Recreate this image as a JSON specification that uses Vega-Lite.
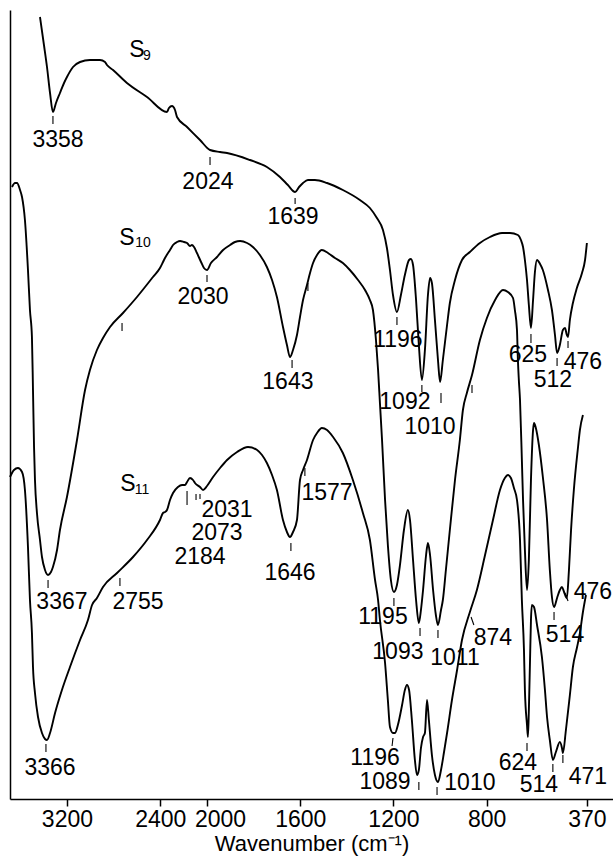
{
  "$schema": "https://vega.github.io/schema/vega-lite/v6.json",
  "width": 603,
  "height": 789,
  "autosize": {"type": "none"},
  "padding": {"left": 10, "top": 10, "right": 0, "bottom": 60},
  "background": "white",
  "config": {"view": {"stroke": null}, "font": "Liberation Sans"},
  "datasets": {
    "spectra": [
      {"s":"S9","wn":3431,"t":782},{"s":"S9","wn":3397,"t":754},{"s":"S9","wn":3371,"t":732},{"s":"S9","wn":3345,"t":706},{"s":"S9","wn":3320,"t":687},{"s":"S9","wn":3294,"t":696},{"s":"S9","wn":3260,"t":706},{"s":"S9","wn":3225,"t":716},{"s":"S9","wn":3200,"t":722},{"s":"S9","wn":3148,"t":732},{"s":"S9","wn":3088,"t":737},{"s":"S9","wn":3003,"t":739},{"s":"S9","wn":2917,"t":739},{"s":"S9","wn":2874,"t":737},{"s":"S9","wn":2857,"t":734},{"s":"S9","wn":2805,"t":729},{"s":"S9","wn":2686,"t":716},{"s":"S9","wn":2514,"t":702},{"s":"S9","wn":2343,"t":687},{"s":"S9","wn":2326,"t":691},{"s":"S9","wn":2300,"t":693},{"s":"S9","wn":2274,"t":689},{"s":"S9","wn":2257,"t":682},{"s":"S9","wn":2171,"t":672},{"s":"S9","wn":2060,"t":659},{"s":"S9","wn":1987,"t":649},{"s":"S9","wn":1944,"t":647},{"s":"S9","wn":1914,"t":646},{"s":"S9","wn":1816,"t":639},{"s":"S9","wn":1743,"t":632},{"s":"S9","wn":1687,"t":622},{"s":"S9","wn":1653,"t":614},{"s":"S9","wn":1622,"t":607},{"s":"S9","wn":1605,"t":612},{"s":"S9","wn":1588,"t":616},{"s":"S9","wn":1567,"t":619},{"s":"S9","wn":1537,"t":619},{"s":"S9","wn":1485,"t":616},{"s":"S9","wn":1417,"t":609},{"s":"S9","wn":1344,"t":599},{"s":"S9","wn":1301,"t":591},{"s":"S9","wn":1271,"t":581},{"s":"S9","wn":1245,"t":569},{"s":"S9","wn":1228,"t":551},{"s":"S9","wn":1215,"t":529},{"s":"S9","wn":1202,"t":504},{"s":"S9","wn":1185,"t":487},{"s":"S9","wn":1168,"t":504},{"s":"S9","wn":1151,"t":524},{"s":"S9","wn":1133,"t":539},{"s":"S9","wn":1125,"t":540},{"s":"S9","wn":1116,"t":534},{"s":"S9","wn":1103,"t":499},{"s":"S9","wn":1091,"t":454},{"s":"S9","wn":1078,"t":419},{"s":"S9","wn":1065,"t":449},{"s":"S9","wn":1052,"t":504},{"s":"S9","wn":1043,"t":521},{"s":"S9","wn":1035,"t":516},{"s":"S9","wn":1022,"t":479},{"s":"S9","wn":1009,"t":439},{"s":"S9","wn":1000,"t":417},{"s":"S9","wn":988,"t":439},{"s":"S9","wn":970,"t":474},{"s":"S9","wn":958,"t":496},{"s":"S9","wn":936,"t":519},{"s":"S9","wn":906,"t":539},{"s":"S9","wn":872,"t":547},{"s":"S9","wn":829,"t":556},{"s":"S9","wn":786,"t":562},{"s":"S9","wn":734,"t":566},{"s":"S9","wn":700,"t":566},{"s":"S9","wn":666,"t":564},{"s":"S9","wn":653,"t":559},{"s":"S9","wn":644,"t":552},{"s":"S9","wn":636,"t":539},{"s":"S9","wn":627,"t":519},{"s":"S9","wn":619,"t":494},{"s":"S9","wn":610,"t":471},{"s":"S9","wn":601,"t":499},{"s":"S9","wn":593,"t":527},{"s":"S9","wn":584,"t":539},{"s":"S9","wn":571,"t":535},{"s":"S9","wn":559,"t":529},{"s":"S9","wn":537,"t":509},{"s":"S9","wn":520,"t":489},{"s":"S9","wn":507,"t":464},{"s":"S9","wn":498,"t":446},{"s":"S9","wn":486,"t":454},{"s":"S9","wn":473,"t":469},{"s":"S9","wn":464,"t":471},{"s":"S9","wn":456,"t":464},{"s":"S9","wn":451,"t":462},{"s":"S9","wn":443,"t":479},{"s":"S9","wn":430,"t":496},{"s":"S9","wn":413,"t":511},{"s":"S9","wn":391,"t":526},{"s":"S9","wn":378,"t":539},{"s":"S9","wn":370,"t":556},
      {"s":"S10","wn":3671,"t":612},{"s":"S10","wn":3645,"t":616},{"s":"S10","wn":3628,"t":616},{"s":"S10","wn":3602,"t":609},{"s":"S10","wn":3585,"t":602},{"s":"S10","wn":3560,"t":579},{"s":"S10","wn":3534,"t":529},{"s":"S10","wn":3517,"t":489},{"s":"S10","wn":3500,"t":462},{"s":"S10","wn":3491,"t":409},{"s":"S10","wn":3482,"t":352},{"s":"S10","wn":3474,"t":319},{"s":"S10","wn":3457,"t":286},{"s":"S10","wn":3431,"t":259},{"s":"S10","wn":3414,"t":242},{"s":"S10","wn":3388,"t":229},{"s":"S10","wn":3362,"t":224},{"s":"S10","wn":3337,"t":227},{"s":"S10","wn":3320,"t":232},{"s":"S10","wn":3285,"t":249},{"s":"S10","wn":3260,"t":269},{"s":"S10","wn":3200,"t":302},{"s":"S10","wn":3114,"t":359},{"s":"S10","wn":3045,"t":409},{"s":"S10","wn":3003,"t":429},{"s":"S10","wn":2943,"t":449},{"s":"S10","wn":2891,"t":461},{"s":"S10","wn":2831,"t":472},{"s":"S10","wn":2720,"t":486},{"s":"S10","wn":2600,"t":502},{"s":"S10","wn":2463,"t":522},{"s":"S10","wn":2403,"t":531},{"s":"S10","wn":2377,"t":537},{"s":"S10","wn":2360,"t":541},{"s":"S10","wn":2317,"t":549},{"s":"S10","wn":2291,"t":554},{"s":"S10","wn":2257,"t":557},{"s":"S10","wn":2231,"t":558},{"s":"S10","wn":2197,"t":557},{"s":"S10","wn":2171,"t":556},{"s":"S10","wn":2146,"t":553},{"s":"S10","wn":2129,"t":554},{"s":"S10","wn":2111,"t":552},{"s":"S10","wn":2086,"t":546},{"s":"S10","wn":2051,"t":537},{"s":"S10","wn":2026,"t":531},{"s":"S10","wn":2000,"t":529},{"s":"S10","wn":1983,"t":536},{"s":"S10","wn":1957,"t":542},{"s":"S10","wn":1931,"t":549},{"s":"S10","wn":1901,"t":554},{"s":"S10","wn":1880,"t":557},{"s":"S10","wn":1858,"t":558},{"s":"S10","wn":1828,"t":556},{"s":"S10","wn":1803,"t":552},{"s":"S10","wn":1773,"t":544},{"s":"S10","wn":1743,"t":532},{"s":"S10","wn":1721,"t":519},{"s":"S10","wn":1700,"t":502},{"s":"S10","wn":1674,"t":472},{"s":"S10","wn":1657,"t":454},{"s":"S10","wn":1644,"t":442},{"s":"S10","wn":1631,"t":449},{"s":"S10","wn":1614,"t":464},{"s":"S10","wn":1601,"t":482},{"s":"S10","wn":1588,"t":499},{"s":"S10","wn":1571,"t":514},{"s":"S10","wn":1558,"t":526},{"s":"S10","wn":1545,"t":536},{"s":"S10","wn":1528,"t":544},{"s":"S10","wn":1507,"t":549},{"s":"S10","wn":1481,"t":546},{"s":"S10","wn":1451,"t":541},{"s":"S10","wn":1417,"t":536},{"s":"S10","wn":1387,"t":529},{"s":"S10","wn":1352,"t":519},{"s":"S10","wn":1322,"t":509},{"s":"S10","wn":1301,"t":499},{"s":"S10","wn":1288,"t":489},{"s":"S10","wn":1275,"t":459},{"s":"S10","wn":1266,"t":429},{"s":"S10","wn":1258,"t":396},{"s":"S10","wn":1249,"t":359},{"s":"S10","wn":1236,"t":299},{"s":"S10","wn":1224,"t":254},{"s":"S10","wn":1211,"t":219},{"s":"S10","wn":1198,"t":207},{"s":"S10","wn":1185,"t":214},{"s":"S10","wn":1172,"t":234},{"s":"S10","wn":1155,"t":269},{"s":"S10","wn":1138,"t":289},{"s":"S10","wn":1129,"t":279},{"s":"S10","wn":1116,"t":239},{"s":"S10","wn":1103,"t":199},{"s":"S10","wn":1091,"t":176},{"s":"S10","wn":1082,"t":189},{"s":"S10","wn":1073,"t":209},{"s":"S10","wn":1060,"t":244},{"s":"S10","wn":1052,"t":256},{"s":"S10","wn":1043,"t":244},{"s":"S10","wn":1030,"t":209},{"s":"S10","wn":1018,"t":184},{"s":"S10","wn":1009,"t":174},{"s":"S10","wn":996,"t":189},{"s":"S10","wn":988,"t":199},{"s":"S10","wn":975,"t":229},{"s":"S10","wn":958,"t":269},{"s":"S10","wn":936,"t":319},{"s":"S10","wn":915,"t":359},{"s":"S10","wn":902,"t":389},{"s":"S10","wn":885,"t":406},{"s":"S10","wn":863,"t":424},{"s":"S10","wn":829,"t":459},{"s":"S10","wn":799,"t":481},{"s":"S10","wn":764,"t":499},{"s":"S10","wn":730,"t":509},{"s":"S10","wn":709,"t":507},{"s":"S10","wn":687,"t":501},{"s":"S10","wn":679,"t":489},{"s":"S10","wn":670,"t":469},{"s":"S10","wn":666,"t":439},{"s":"S10","wn":662,"t":419},{"s":"S10","wn":657,"t":399},{"s":"S10","wn":649,"t":339},{"s":"S10","wn":644,"t":299},{"s":"S10","wn":636,"t":249},{"s":"S10","wn":627,"t":209},{"s":"S10","wn":619,"t":239},{"s":"S10","wn":610,"t":319},{"s":"S10","wn":601,"t":369},{"s":"S10","wn":597,"t":376},{"s":"S10","wn":589,"t":371},{"s":"S10","wn":576,"t":354},{"s":"S10","wn":559,"t":322},{"s":"S10","wn":541,"t":279},{"s":"S10","wn":529,"t":229},{"s":"S10","wn":520,"t":202},{"s":"S10","wn":511,"t":192},{"s":"S10","wn":498,"t":201},{"s":"S10","wn":486,"t":209},{"s":"S10","wn":477,"t":212},{"s":"S10","wn":468,"t":207},{"s":"S10","wn":456,"t":201},{"s":"S10","wn":447,"t":229},{"s":"S10","wn":438,"t":269},{"s":"S10","wn":426,"t":309},{"s":"S10","wn":408,"t":352},{"s":"S10","wn":400,"t":369},{"s":"S10","wn":387,"t":384},
      {"s":"S11","wn":3688,"t":322},{"s":"S11","wn":3654,"t":329},{"s":"S11","wn":3620,"t":331},{"s":"S11","wn":3585,"t":327},{"s":"S11","wn":3560,"t":309},{"s":"S11","wn":3534,"t":252},{"s":"S11","wn":3517,"t":199},{"s":"S11","wn":3500,"t":166},{"s":"S11","wn":3491,"t":132},{"s":"S11","wn":3474,"t":106},{"s":"S11","wn":3448,"t":82},{"s":"S11","wn":3414,"t":66},{"s":"S11","wn":3388,"t":60},{"s":"S11","wn":3371,"t":59},{"s":"S11","wn":3345,"t":66},{"s":"S11","wn":3302,"t":86},{"s":"S11","wn":3243,"t":109},{"s":"S11","wn":3174,"t":132},{"s":"S11","wn":3088,"t":159},{"s":"S11","wn":3020,"t":179},{"s":"S11","wn":2985,"t":194},{"s":"S11","wn":2943,"t":201},{"s":"S11","wn":2891,"t":212},{"s":"S11","wn":2771,"t":226},{"s":"S11","wn":2634,"t":242},{"s":"S11","wn":2514,"t":259},{"s":"S11","wn":2403,"t":279},{"s":"S11","wn":2377,"t":286},{"s":"S11","wn":2360,"t":287},{"s":"S11","wn":2343,"t":289},{"s":"S11","wn":2317,"t":299},{"s":"S11","wn":2291,"t":306},{"s":"S11","wn":2249,"t":312},{"s":"S11","wn":2214,"t":314},{"s":"S11","wn":2189,"t":314},{"s":"S11","wn":2171,"t":317},{"s":"S11","wn":2146,"t":321},{"s":"S11","wn":2120,"t":319},{"s":"S11","wn":2103,"t":316},{"s":"S11","wn":2060,"t":312},{"s":"S11","wn":2034,"t":309},{"s":"S11","wn":2000,"t":313},{"s":"S11","wn":1974,"t":322},{"s":"S11","wn":1944,"t":331},{"s":"S11","wn":1914,"t":339},{"s":"S11","wn":1871,"t":347},{"s":"S11","wn":1824,"t":352},{"s":"S11","wn":1785,"t":349},{"s":"S11","wn":1764,"t":344},{"s":"S11","wn":1743,"t":336},{"s":"S11","wn":1721,"t":324},{"s":"S11","wn":1700,"t":309},{"s":"S11","wn":1674,"t":279},{"s":"S11","wn":1657,"t":267},{"s":"S11","wn":1644,"t":262},{"s":"S11","wn":1631,"t":267},{"s":"S11","wn":1614,"t":279},{"s":"S11","wn":1601,"t":319},{"s":"S11","wn":1588,"t":329},{"s":"S11","wn":1571,"t":339},{"s":"S11","wn":1545,"t":359},{"s":"S11","wn":1528,"t":366},{"s":"S11","wn":1507,"t":371},{"s":"S11","wn":1485,"t":369},{"s":"S11","wn":1459,"t":362},{"s":"S11","wn":1417,"t":346},{"s":"S11","wn":1374,"t":319},{"s":"S11","wn":1331,"t":286},{"s":"S11","wn":1301,"t":259},{"s":"S11","wn":1279,"t":219},{"s":"S11","wn":1266,"t":199},{"s":"S11","wn":1258,"t":179},{"s":"S11","wn":1236,"t":136},{"s":"S11","wn":1224,"t":99},{"s":"S11","wn":1215,"t":72},{"s":"S11","wn":1202,"t":66},{"s":"S11","wn":1193,"t":66},{"s":"S11","wn":1181,"t":74},{"s":"S11","wn":1163,"t":94},{"s":"S11","wn":1151,"t":109},{"s":"S11","wn":1142,"t":114},{"s":"S11","wn":1133,"t":109},{"s":"S11","wn":1121,"t":79},{"s":"S11","wn":1108,"t":39},{"s":"S11","wn":1099,"t":24},{"s":"S11","wn":1091,"t":29},{"s":"S11","wn":1082,"t":51},{"s":"S11","wn":1073,"t":62},{"s":"S11","wn":1065,"t":66},{"s":"S11","wn":1056,"t":99},{"s":"S11","wn":1048,"t":79},{"s":"S11","wn":1035,"t":44},{"s":"S11","wn":1022,"t":24},{"s":"S11","wn":1009,"t":17},{"s":"S11","wn":996,"t":29},{"s":"S11","wn":983,"t":47},{"s":"S11","wn":970,"t":66},{"s":"S11","wn":949,"t":99},{"s":"S11","wn":927,"t":129},{"s":"S11","wn":906,"t":159},{"s":"S11","wn":872,"t":187},{"s":"S11","wn":842,"t":209},{"s":"S11","wn":807,"t":244},{"s":"S11","wn":773,"t":279},{"s":"S11","wn":743,"t":309},{"s":"S11","wn":722,"t":321},{"s":"S11","wn":709,"t":324},{"s":"S11","wn":696,"t":321},{"s":"S11","wn":683,"t":311},{"s":"S11","wn":670,"t":299},{"s":"S11","wn":657,"t":259},{"s":"S11","wn":649,"t":199},{"s":"S11","wn":640,"t":149},{"s":"S11","wn":636,"t":109},{"s":"S11","wn":627,"t":74},{"s":"S11","wn":623,"t":62},{"s":"S11","wn":619,"t":89},{"s":"S11","wn":614,"t":139},{"s":"S11","wn":610,"t":179},{"s":"S11","wn":606,"t":194},{"s":"S11","wn":597,"t":192},{"s":"S11","wn":584,"t":174},{"s":"S11","wn":563,"t":142},{"s":"S11","wn":550,"t":109},{"s":"S11","wn":541,"t":82},{"s":"S11","wn":529,"t":59},{"s":"S11","wn":516,"t":39},{"s":"S11","wn":503,"t":47},{"s":"S11","wn":486,"t":57},{"s":"S11","wn":477,"t":51},{"s":"S11","wn":473,"t":46},{"s":"S11","wn":460,"t":69},{"s":"S11","wn":443,"t":104},{"s":"S11","wn":430,"t":132},{"s":"S11","wn":413,"t":151},{"s":"S11","wn":400,"t":166},{"s":"S11","wn":387,"t":187},{"s":"S11","wn":374,"t":204}
    ],
    "ticks": [
      {"wn":3320,"t":683,"wn2":3320,"t2":675},{"wn":1987,"t":642,"wn2":1987,"t2":634},{"wn":1622,"t":601,"wn2":1622,"t2":595},{"wn":1185,"t":482,"wn2":1185,"t2":474},{"wn":1078,"t":414,"wn2":1078,"t2":407},{"wn":996,"t":406,"wn2":996,"t2":396},{"wn":610,"t":465,"wn2":610,"t2":456},{"wn":498,"t":441,"wn2":498,"t2":433},{"wn":451,"t":458,"wn2":451,"t2":451},
      {"wn":2728,"t":476,"wn2":2728,"t2":468},{"wn":2000,"t":524,"wn2":2000,"t2":517},{"wn":1635,"t":439,"wn2":1635,"t2":431},{"wn":1567,"t":516,"wn2":1567,"t2":508},{"wn":3362,"t":219,"wn2":3362,"t2":211},{"wn":1198,"t":201,"wn2":1198,"t2":193},{"wn":1086,"t":171,"wn2":1086,"t2":163},{"wn":1009,"t":169,"wn2":1009,"t2":161},{"wn":867,"t":182,"wn2":855,"t2":174},{"wn":863,"t":414,"wn2":863,"t2":406},{"wn":511,"t":187,"wn2":511,"t2":179},{"wn":464,"t":206,"wn2":451,"t2":198},
      {"wn":2746,"t":221,"wn2":2746,"t2":213},{"wn":2171,"t":308,"wn2":2171,"t2":294},{"wn":2094,"t":305,"wn2":2094,"t2":299},{"wn":2060,"t":305,"wn2":2060,"t2":300},{"wn":1640,"t":256,"wn2":1640,"t2":248},{"wn":1580,"t":331,"wn2":1580,"t2":323},{"wn":3380,"t":55,"wn2":3380,"t2":47},{"wn":1202,"t":61,"wn2":1206,"t2":53},{"wn":1091,"t":17,"wn2":1091,"t2":9},{"wn":1013,"t":12,"wn2":1013,"t2":4},{"wn":627,"t":56,"wn2":627,"t2":48},{"wn":516,"t":35,"wn2":516,"t2":27},{"wn":473,"t":44,"wn2":473,"t2":36}
    ],
    "labels": [
      {"label":"3358","wn":3277,"t":659},{"label":"2024","wn":1996,"t":617},{"label":"1639","wn":1631,"t":582},{"label":"1196","wn":1181,"t":459},{"label":"1092","wn":1151,"t":397},{"label":"1010","wn":1043,"t":372},{"label":"625","wn":623,"t":444},{"label":"512","wn":516,"t":419},{"label":"476","wn":387,"t":437},
      {"label":"2030","wn":2034,"t":502},{"label":"1643","wn":1653,"t":417},{"label":"3367","wn":3243,"t":197},{"label":"1195","wn":1245,"t":182},{"label":"1093","wn":1181,"t":147},{"label":"1011","wn":936,"t":141},{"label":"874","wn":773,"t":161},{"label":"514","wn":464,"t":164},{"label":"476","wn":344,"t":207},
      {"label":"2031","wn":1914,"t":289},{"label":"2073","wn":1957,"t":266},{"label":"2184","wn":2060,"t":242},{"label":"2755","wn":2591,"t":197},{"label":"1646","wn":1644,"t":226},{"label":"1577","wn":1485,"t":306},{"label":"3366","wn":3345,"t":31},{"label":"1196","wn":1279,"t":41},{"label":"1089","wn":1236,"t":17},{"label":"1010","wn":872,"t":16},{"label":"624","wn":666,"t":36},{"label":"514","wn":576,"t":14},{"label":"471","wn":366,"t":22},
      {"label":"S","wn":2600,"t":749},{"label":"S","wn":2686,"t":561},{"label":"S","wn":2677,"t":315}
    ],
    "subs": [
      {"label":"9","wn":2514,"t":743},{"label":"10","wn":2548,"t":556},{"label":"11","wn":2557,"t":309}
    ]
  },
  "encoding": {
    "x": {
      "field": "wn", "type": "quantitative",
      "scale": {"domain": [3688, 2000, 258], "range": [0, 197, 603], "nice": false, "zero": false},
      "axis": {
        "values": [3200, 2400, 2000, 1600, 1200, 800, 370],
        "format": "d",
        "labelOffset": {"condition": {"test": "datum.value === 2000", "value": 13}, "value": 0},
        "grid": false,
        "labelOverlap": false,
        "labelFont": "Liberation Sans",
        "labelFontSize": 23,
        "labelColor": "black",
        "labelPadding": 2,
        "tickColor": "black",
        "tickSize": 7,
        "tickWidth": 1.5,
        "domainColor": "black",
        "domainWidth": 1.5,
        "title": "Wavenumber (cm⁻¹)",
        "titleFont": "Liberation Sans",
        "titleFontSize": 22,
        "titleFontWeight": "normal",
        "titleColor": "black",
        "titlePadding": 2
      }
    },
    "y": {
      "field": "t", "type": "quantitative",
      "scale": {"domain": [0, 789], "nice": false, "zero": false},
      "axis": {"ticks": false, "labels": false, "title": null, "grid": false, "domainColor": "black", "domainWidth": 1.5}
    }
  },
  "layer": [
    {
      "data": {"values": [{}]},
      "mark": {"type": "rule", "color": "black", "strokeWidth": 1.5},
      "encoding": {"x": {"datum": 3688}, "x2": {"datum": 258}, "y": {"datum": 789}, "y2": {"datum": 777}}
    },
    {
      "data": {"name": "spectra"},
      "mark": {"type": "line", "color": "black", "strokeWidth": 1.9, "interpolate": "monotone"},
      "encoding": {"detail": {"field": "s", "type": "nominal"}}
    },
    {
      "data": {"name": "ticks"},
      "mark": {"type": "rule", "color": "black", "strokeWidth": 1.1},
      "encoding": {"x2": {"field": "wn2"}, "y2": {"field": "t2"}}
    },
    {
      "data": {"name": "labels"},
      "mark": {"type": "text", "font": "Liberation Sans", "fontSize": 23, "color": "black", "align": "center", "baseline": "middle"},
      "encoding": {"text": {"field": "label", "type": "nominal"}}
    },
    {
      "data": {"name": "subs"},
      "mark": {"type": "text", "font": "Liberation Sans", "fontSize": 14, "color": "black", "align": "center", "baseline": "middle"},
      "encoding": {"text": {"field": "label", "type": "nominal"}}
    }
  ]
}
